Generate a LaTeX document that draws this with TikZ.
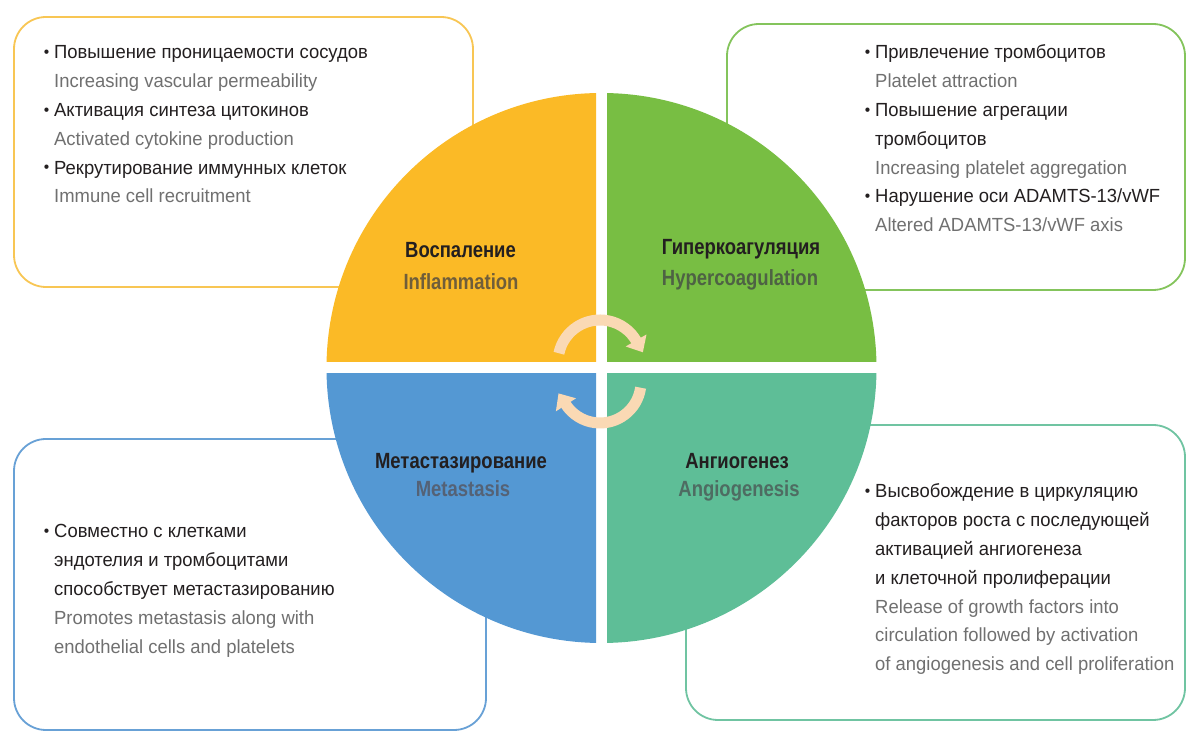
\documentclass[tikz,border=0pt]{standalone}
\usepackage{fontspec}
\setmainfont{Liberation Sans}[FakeStretch=0.97]
\newfontfamily\headfont{Liberation Sans}[FakeStretch=0.84]
\usetikzlibrary{calc}
\definecolor{cyel}{RGB}{251,186,38}
\definecolor{cgrn}{RGB}{120,190,67}
\definecolor{cblu}{RGB}{84,152,211}
\definecolor{ctea}{RGB}{94,190,151}
\definecolor{byel}{RGB}{248,198,84}
\definecolor{bgrn}{RGB}{132,196,92}
\definecolor{bblu}{RGB}{104,161,214}
\definecolor{btea}{RGB}{112,196,162}
\definecolor{peach}{RGB}{250,217,180}
\definecolor{rutext}{RGB}{35,31,32}
\definecolor{entext}{RGB}{112,112,112}
\definecolor{hyel}{RGB}{112,94,58}
\definecolor{hgrn}{RGB}{78,98,68}
\definecolor{hblu}{RGB}{84,98,118}
\definecolor{htea}{RGB}{78,108,98}
\newcommand{\bul}{\llap{\raisebox{1.5pt}{\fontsize{16}{16}\selectfont\textbullet}\hspace{5pt}}}
\tikzset{
  infobox/.style={line width=1.8pt, rounded corners=32pt, fill=white},
  ru/.style={anchor=base west, inner sep=0pt, text=rutext, font=\fontsize{19}{21}\selectfont},
  en/.style={anchor=base west, inner sep=0pt, text=entext, font=\fontsize{19}{21}\selectfont},
  headru/.style={anchor=base, inner sep=0pt, text=rutext, font=\headfont\bfseries\fontsize{22}{24}\selectfont},
  headen/.style={anchor=base, inner sep=0pt, font=\headfont\bfseries\fontsize{22}{24}\selectfont},
  cyc/.style={line width=11pt, peach},
}
\begin{document}
\begin{tikzpicture}[x=1pt,y=1pt]
\useasboundingbox (0,0) rectangle (1200,741);
\fill[white] (0,0) rectangle (1200,741);
% boxes
\draw[infobox, draw=byel] (14,454) rectangle (473,724);
\draw[infobox, draw=bgrn] (727,451) rectangle (1185,717);
\draw[infobox, draw=bblu] (14,11) rectangle (486,302);
\draw[infobox, draw=btea] (686,21) rectangle (1185,316);
% quadrants
\coordinate (C) at (601.5,373);
\begin{scope}
\clip (0,379) rectangle (596,741);
\fill[cyel] (C) circle (275pt);
\end{scope}
\begin{scope}
\clip (607,379) rectangle (1200,741);
\fill[cgrn] (C) circle (275pt);
\end{scope}
\begin{scope}
\clip (0,0) rectangle (596,367);
\fill[cblu] (C) circle (275pt);
\end{scope}
\begin{scope}
\clip (607,0) rectangle (1200,367);
\fill[ctea] (C) circle (275pt);
\end{scope}
% cycle arrows
\begin{scope}[shift={(600,379)}]
\draw[cyc] (168:42) arc[start angle=168, end angle=30, radius=42];
\begin{scope}[rotate=30]
\fill[peach] (54,0.6) -- (30,0.6) -- (42,-13) -- cycle;
\end{scope}
\end{scope}
\begin{scope}[shift={(600,359)}]
\draw[cyc] (-8:41) arc[start angle=-8, end angle=-147, radius=41];
\begin{scope}[rotate=-147]
\fill[peach] (53,0.6) -- (29,0.6) -- (41,-13) -- cycle;
\end{scope}
\end{scope}
% headings
\node[headru] (h1) at (460.5,483) {Воспаление};
\node[headen, text=hyel] (h1e) at (461,451) {Inflammation};
\node[headru] (h2) at (741,486) {Гиперкоагуляция};
\node[headen, text=hgrn] (h2e) at (740,455) {Hypercoagulation};
\node[headru] (h3) at (461,272) {Метастазирование};
\node[headen, text=hblu] (h3e) at (463,244) {Metastasis};
\node[headru] (h4) at (737,272) {Ангиогенез};
\node[headen, text=htea] (h4e) at (739,244) {Angiogenesis};
% top-left text
\node[ru] (a1) at (54,682) {\bul Повышение проницаемости сосудов};
\node[en] (a2) at (54,653.2) {Increasing vascular permeability};
\node[ru] (a3) at (54,624.4) {\bul Активация синтеза цитокинов};
\node[en] (a4) at (54,595.6) {Activated cytokine production};
\node[ru] (a5) at (54,566.8) {\bul Рекрутирование иммунных клеток};
\node[en] (a6) at (54,538) {Immune cell recruitment};
% top-right text
\node[ru] (b1) at (875,682) {\bul Привлечение тромбоцитов};
\node[en] (b2) at (875,653.2) {Platelet attraction};
\node[ru] (b3) at (875,624.4) {\bul Повышение агрегации};
\node[ru] (b4) at (875,595.6) {тромбоцитов};
\node[en] (b5) at (875,566.8) {Increasing platelet aggregation};
\node[ru] (b6) at (875,538) {\bul Нарушение оси ADAMTS-13/vWF};
\node[en] (b7) at (875,509.2) {Altered ADAMTS-13/vWF axis};
% bottom-left text
\node[ru] (c1) at (54,203) {\bul Совместно с клетками};
\node[ru] (c2) at (54,174.2) {эндотелия и тромбоцитами};
\node[ru] (c3) at (54,145.4) {способствует метастазированию};
\node[en] (c4) at (54,116.6) {Promotes metastasis along with};
\node[en] (c5) at (54,87.8) {endothelial cells and platelets};
% bottom-right text
\node[ru] (d1) at (875,243) {\bul Высвобождение в циркуляцию};
\node[ru] (d2) at (875,214.2) {факторов роста с последующей};
\node[ru] (d3) at (875,185.4) {активацией ангиогенеза};
\node[ru] (d4) at (875,156.6) {и клеточной пролиферации};
\node[en] (d5) at (875,127.8) {Release of growth factors into};
\node[en] (d6) at (875,99) {circulation followed by activation};
\node[en] (d7) at (875,70.2) {of angiogenesis and cell proliferation};
\end{tikzpicture}
\end{document}
